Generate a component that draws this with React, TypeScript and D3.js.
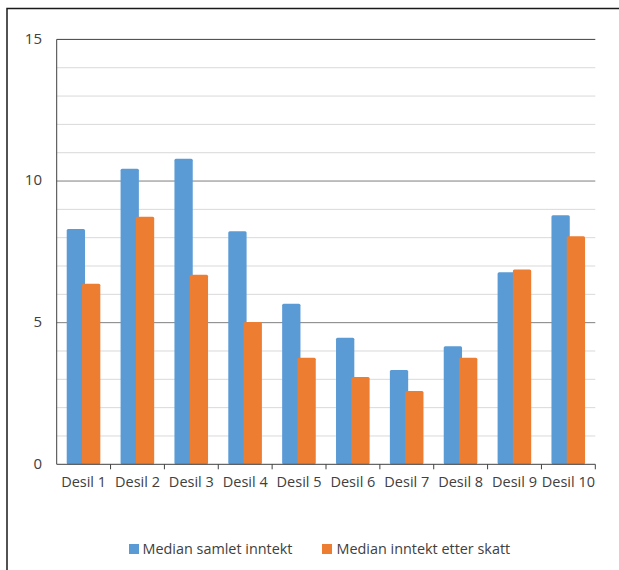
import React from "react";
import * as d3 from "d3";

const categories = ["Desil 1", "Desil 2", "Desil 3", "Desil 4", "Desil 5", "Desil 6", "Desil 7", "Desil 8", "Desil 9", "Desil 10"];
const seriesNames = ["Median samlet inntekt", "Median inntekt etter skatt"];
const samlet = [8.31, 10.43, 10.79, 8.23, 5.67, 4.47, 3.33, 4.17, 6.78, 8.79];
const etterSkatt = [6.37, 8.74, 6.69, 5.02, 3.76, 3.08, 2.59, 3.76, 6.88, 8.05];
const yTicks = [0, 5, 10, 15];
const minorTicks = [1, 2, 3, 4, 6, 7, 8, 9, 11, 12, 13, 14];
const colors = ["#5B9BD5", "#ED7D31"];

const W = 619;
const H = 570;
const left = 56.7;
const right = 595.3;
const top = 39.4;
const bottom = 464.3;
const font = "'Open Sans', 'Noto Sans', sans-serif";
const textColor = "#404040";

export default function App() {
  const x = d3.scaleBand<string>().domain(categories).range([left, right]).padding(0);
  const y = d3.scaleLinear().domain([0, 15]).range([bottom, top]);
  const bw = x.bandwidth();
  const barW = 18.3;
  const off1 = bw * 0.186;
  const off2 = off1 + 15.3;
  const series = [samlet, etterSkatt];
  const offs = [off1, off2];
  return (
    <svg width={W} height={H} style={{ position: "absolute", left: 0, top: 0 }} xmlns="http://www.w3.org/2000/svg">
      <rect x={0} y={0} width={W} height={H} fill="#fff" />
      <rect x={7} y={8.5} width={700} height={700} fill="none" stroke="#1a1a1a" strokeWidth={1.5} />
      {minorTicks.map((t) => (
        <line key={"m" + t} x1={left} x2={right} y1={y(t)} y2={y(t)} stroke="#d9d9d9" strokeWidth={1} />
      ))}
      {[5, 10].map((t) => (
        <line key={"M" + t} x1={left} x2={right} y1={y(t)} y2={y(t)} stroke="#7f7f7f" strokeWidth={1} />
      ))}
      <line x1={left} x2={right} y1={y(15)} y2={y(15)} stroke="#404040" strokeWidth={1} />
      <line x1={left} x2={left} y1={y(15)} y2={y(0)} stroke="#404040" strokeWidth={1} />
      {series.map((vals, si) =>
        vals.map((v, i) => (
          <rect
            key={si + "-" + i}
            x={(x(categories[i]) as number) + offs[si]}
            y={y(v)}
            width={barW}
            height={y(0) - y(v)}
            rx={1.5}
            fill={colors[si]}
          />
        ))
      )}
      <line x1={left} x2={right} y1={y(0)} y2={y(0)} stroke="#404040" strokeWidth={1} />
      {categories.map((c, i) => (
        <line key={"t" + i} x1={(x(c) as number) + bw} x2={(x(c) as number) + bw} y1={y(0)} y2={y(0) + 5} stroke="#404040" strokeWidth={1} />
      ))}
      {yTicks.map((t) => (
        <text key={"y" + t} x={42} y={y(t) - 1} dy="0.35em" textAnchor="end" fontFamily={font} fontSize={15} fill={textColor}>
          {t}
        </text>
      ))}
      {categories.map((c) => (
        <text key={"x" + c} x={(x(c) as number) + bw / 2} y={482} dy="0.35em" textAnchor="middle" fontFamily={font} fontSize={14.5} fill={textColor}>
          {c}
        </text>
      ))}
      <rect x={129} y={544} width={10} height={10} fill={colors[0]} />
      <text x={142.5} y={549} dy="0.35em" fontFamily={font} fontSize={14.4} fill={textColor}>{seriesNames[0]}</text>
      <rect x={322} y={544} width={10} height={10} fill={colors[1]} />
      <text x={336.5} y={549} dy="0.35em" fontFamily={font} fontSize={14.4} fill={textColor}>{seriesNames[1]}</text>
    </svg>
  );
}
